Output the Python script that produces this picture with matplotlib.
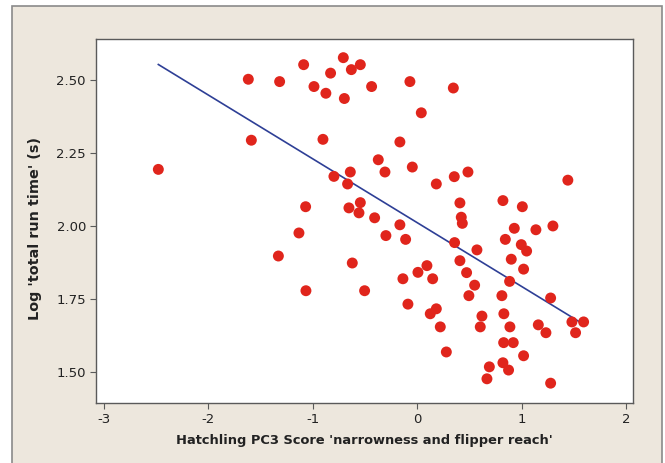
import numpy as np
import matplotlib
matplotlib.use("Agg")
import matplotlib.pyplot as plt
from matplotlib.patches import Rectangle

# hatchling PC3 score vs log total run time
pc3 = [-2.48, -1.618, -1.318, -1.088, -0.708, -0.545, -0.631, -0.830, -0.989, -0.875,
       -0.698, -0.437, -1.589, -0.903, -0.373, -0.309, -0.798, -0.641, -0.667, -0.545,
       -1.069, -0.654, -0.558, -0.408, -1.133, -0.300, -1.330, -0.622, -1.066, -0.504,
       -0.070, 0.346, 0.039, -0.166, -0.047, 0.183, 0.355, 0.486, 1.443, 0.409,
       0.821, 1.007, 0.422, 0.432, -0.166, 0.930, 1.137, 1.300, -0.111, 0.844,
       0.358, 0.997, 1.048, 0.572, 0.901, 0.409, 0.093, 0.007, 1.019, -0.137,
       0.148, 0.473, 0.885, 0.550, 0.495, 0.811, 1.278, -0.089, 0.183, 0.125,
       0.830, 0.620, 0.221, 0.604, 0.888, 1.160, 1.482, 1.594, 1.517, 1.233,
       0.828, 0.920, 0.279, 1.019, 0.821, 0.691, 0.875, 0.668, 1.278]
log_time = [2.195, 2.504, 2.496, 2.554, 2.578, 2.554, 2.537, 2.525, 2.479, 2.456,
            2.438, 2.479, 2.295, 2.298, 2.228, 2.186, 2.171, 2.186, 2.145, 2.081,
            2.067, 2.063, 2.046, 2.029, 1.977, 1.968, 1.898, 1.874, 1.779, 1.779,
            2.496, 2.474, 2.389, 2.289, 2.203, 2.145, 2.170, 2.186, 2.158, 2.080,
            2.088, 2.067, 2.031, 2.010, 2.005, 1.993, 1.988, 2.001, 1.955, 1.955,
            1.944, 1.937, 1.915, 1.919, 1.887, 1.882, 1.865, 1.842, 1.853, 1.820,
            1.820, 1.841, 1.811, 1.798, 1.762, 1.762, 1.754, 1.733, 1.717, 1.700,
            1.700, 1.692, 1.655, 1.655, 1.655, 1.662, 1.672, 1.672, 1.635, 1.635,
            1.601, 1.601, 1.569, 1.556, 1.532, 1.518, 1.507, 1.477, 1.462]

xticks = [-3, -2, -1, 0, 1, 2]
yticks = [1.50, 1.75, 2.00, 2.25, 2.50]

x = np.array(pc3)
y = np.array(log_time)
slope, icept = np.polyfit(x, y, 1)
xfit = np.array([x.min(), x.max()])

W, H = 665, 463
fig = plt.figure(figsize=(W / 100, H / 100), dpi=100, facecolor="white")

# beige panel with grey frame (bottom edge runs off the image)
fig.patches.append(Rectangle((12 / W, -0.05), 650 / W, 1 - 6 / H + 0.05,
                             transform=fig.transFigure, facecolor="#ede7dd",
                             edgecolor="#8a8a8a", lw=1.2, zorder=-5))

ax = fig.add_axes([95.7 / W, 1 - 403.3 / H, (633.3 - 95.7) / W, (403.3 - 39.3) / H])
ax.set_facecolor("white")
ax.plot(xfit, icept + slope * xfit, color="#2e3f96", lw=1.2, zorder=2)
ax.scatter(x, y, s=62, color="#e0251c", edgecolors="none", zorder=3)

ax.set_xlim(-3.08, 2.07)
ax.set_ylim(1.393, 2.641)
ax.set_xticks(xticks)
ax.set_xticklabels([str(t) for t in xticks])
ax.set_yticks(yticks)
ax.set_yticklabels([f"{t:.2f}" for t in yticks])

for s in ax.spines.values():
    s.set_color("#5a5a5a")
    s.set_linewidth(1.0)
ax.tick_params(direction="out", length=4, width=0.8, color="#5a5a5a",
               labelsize=9.5, labelcolor="#222222", pad=3)

ax.set_xlabel("Hatchling PC3 Score 'narrowness and flipper reach'",
              fontsize=9.4, fontweight="bold", color="#222222", labelpad=6)
ax.set_ylabel("Log 'total run time' (s)", fontsize=10.4, fontweight="bold",
              color="#222222", labelpad=10)
ax.yaxis.label.set_y(0.48)

fig.savefig("out.png", dpi=100, facecolor="white")
